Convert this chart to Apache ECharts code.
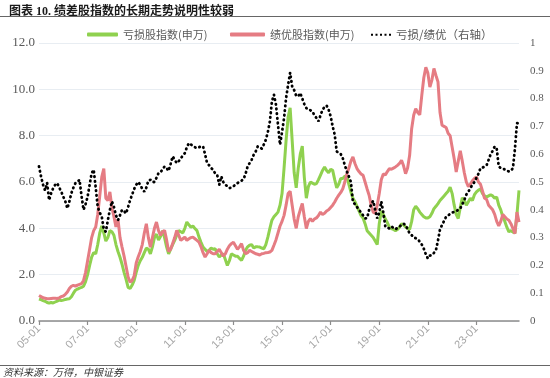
<!DOCTYPE html>
<html lang="zh">
<head>
<meta charset="UTF-8">
<title>绩差股指数</title>
<script src="https://cdn.jsdelivr.net/npm/echarts@6/dist/echarts.min.js"></script>
<style>
    * { margin: 0; padding: 0; }
    body { background: #fff; }
    #box { width: 550px; height: 378px; }
</style>
</head>
<body>
<div id="box"></div>
<script>
    // 月度数据 2005-01 ~ 2024-10
    var startYear = 2005, monthCount = 238;
    var months = [];
    for (var i = 0; i < monthCount; i++) {
        var y = startYear + Math.floor(i / 12), m = i % 12 + 1;
        months.push(String(y).slice(2) + '-' + (m < 10 ? '0' + m : m));
    }

    // 亏损股指数(申万)
    var lossIdx = [
        0.95, 0.92, 0.88, 0.85, 0.80, 0.77, 0.80, 0.78, 0.82, 0.86, 0.90, 0.88,
        0.90, 0.93, 0.95, 0.96, 1.05, 1.20, 1.33, 1.38, 1.42, 1.45, 1.50, 1.70,
        2.00, 2.40, 2.76, 2.95, 2.90, 3.30, 3.80, 4.10, 3.80, 3.45, 3.60, 3.90,
        3.85, 3.70, 3.30, 3.00, 2.75, 2.45, 2.10, 1.80, 1.45, 1.40, 1.55, 1.75,
        2.10, 2.40, 2.60, 2.75, 2.95, 3.15, 3.10, 2.90, 3.20, 3.60, 3.75, 3.50,
        3.65, 3.90, 3.60, 3.20, 2.90, 3.10, 3.30, 3.48, 3.70, 3.90, 3.85, 3.80,
        4.00, 4.27, 4.15, 4.05, 4.10, 3.99, 3.90, 3.62, 3.40, 3.19, 3.10, 3.00,
        3.05, 3.15, 3.10, 3.12, 2.90, 2.76, 2.85, 2.90, 2.65, 2.40, 2.60, 2.90,
        2.85, 2.80, 2.80, 2.70, 2.62, 2.80, 3.05, 3.20, 3.27, 3.30, 3.15, 3.20,
        3.20, 3.19, 3.15, 3.12, 3.30, 3.62, 4.00, 4.35, 4.50, 4.60, 4.70, 5.00,
        5.50, 6.60, 7.80, 8.80, 9.20, 7.80, 6.40, 5.75, 6.60, 7.20, 7.55, 6.20,
        5.30, 5.80, 6.00, 5.95, 5.90, 5.93, 6.10, 6.30, 6.50, 6.65, 6.50, 6.40,
        6.55, 6.50, 6.10, 5.75, 5.90, 6.15, 6.15, 6.25, 6.25, 5.90, 5.57, 5.30,
        5.15, 4.95, 4.75, 4.55, 4.45, 4.20, 3.90, 3.80, 3.70, 3.60, 3.45, 3.30,
        4.20, 4.75, 4.60, 4.40, 4.25, 4.05, 3.99, 3.95, 3.90, 3.95, 4.05, 4.20,
        4.15, 4.06, 4.00, 3.95, 4.30, 4.80, 4.95, 4.85, 4.70, 4.60, 4.50, 4.45,
        4.45, 4.50, 4.65, 4.85, 4.95, 5.07, 5.20, 5.30, 5.40, 5.50, 5.60, 5.78,
        5.50, 5.00, 4.60, 4.42, 4.90, 5.32, 5.20, 5.00, 5.15, 5.30, 5.20, 5.45,
        5.57, 5.65, 5.70, 5.50, 5.40, 5.35, 5.40, 5.45, 5.40, 5.30, 5.35, 5.00,
        4.80, 4.50, 4.30, 4.05, 3.85, 3.90, 3.84, 3.80, 4.60, 5.64
    ];

    // 绩优股指数(申万)
    var goodIdx = [
        1.10, 1.05, 1.00, 0.98, 0.96, 0.96, 0.97, 0.98, 0.98, 0.97, 1.00, 1.05,
        1.08, 1.15, 1.25, 1.40, 1.50, 1.54, 1.50, 1.55, 1.58, 1.61, 1.75, 2.10,
        2.60, 3.10, 3.60, 3.90, 4.06, 4.60, 5.40, 6.22, 6.58, 5.30, 5.20, 5.57,
        4.90, 4.50, 4.06, 4.40, 3.60, 3.19, 2.80, 2.35, 1.90, 1.68, 1.75, 1.95,
        2.50, 2.77, 3.00, 3.30, 3.80, 4.20, 3.60, 3.19, 3.60, 4.00, 4.27, 3.90,
        3.70, 3.85, 3.91, 3.50, 3.00, 3.10, 3.35, 3.60, 3.91, 3.70, 3.48, 3.55,
        3.62, 3.48, 3.55, 3.60, 3.62, 3.55, 3.48, 3.40, 3.20, 2.95, 2.76, 2.90,
        3.05, 2.95, 2.90, 2.90, 3.00, 3.10, 2.95, 2.80, 2.90, 3.10, 3.25, 3.34,
        3.40, 3.25, 3.10, 3.20, 3.34, 3.05, 2.90, 2.95, 3.05, 3.00, 2.95, 2.90,
        2.88, 2.85, 2.90, 2.92, 2.95, 2.96, 2.98, 3.05, 3.27, 3.50, 3.80, 4.10,
        4.30, 4.56, 5.00, 5.50, 5.60, 5.00, 4.40, 4.00, 4.50, 4.80, 5.07, 4.50,
        3.99, 4.30, 4.42, 4.30, 4.40, 4.45, 4.55, 4.70, 4.60, 4.65, 4.75, 4.80,
        4.90, 5.00, 5.14, 5.30, 5.43, 5.55, 5.71, 6.00, 6.35, 6.60, 6.90, 7.08,
        6.80, 6.58, 6.45, 6.35, 6.29, 6.00, 5.70, 5.43, 5.00, 4.70, 4.65, 5.00,
        5.50, 6.10, 6.35, 6.30, 6.45, 6.58, 6.55, 6.60, 6.65, 6.72, 6.80, 6.94,
        6.70, 6.36, 6.60, 7.15, 8.30, 8.88, 9.17, 9.00, 8.90, 9.74, 10.50, 10.95,
        10.70, 10.10, 10.40, 10.90, 10.60, 10.32, 9.00, 8.45, 8.40, 8.35, 8.10, 8.00,
        7.50, 7.00, 6.43, 6.90, 7.35, 6.90, 6.40, 6.00, 5.80, 5.90, 6.05, 6.15,
        6.22, 6.00, 5.90, 5.60, 5.30, 5.25, 5.00, 4.90, 4.80, 4.60, 4.30, 4.10,
        4.30, 4.60, 4.50, 4.40, 4.35, 4.20, 4.00, 3.77, 4.70, 4.27
    ];

    // 亏损/绩优（右轴）
    var ratio = [
        0.556, 0.520, 0.490, 0.470, 0.497, 0.435, 0.460, 0.478, 0.490, 0.496, 0.480, 0.465,
        0.447, 0.430, 0.405, 0.430, 0.460, 0.480, 0.496, 0.500, 0.508, 0.450, 0.400, 0.420,
        0.447, 0.490, 0.532, 0.544, 0.480, 0.410, 0.390, 0.375, 0.330, 0.321, 0.363, 0.400,
        0.430, 0.410, 0.380, 0.363, 0.380, 0.400, 0.395, 0.387, 0.410, 0.435, 0.455, 0.475,
        0.490, 0.500, 0.490, 0.475, 0.465, 0.480, 0.505, 0.508, 0.500, 0.500, 0.515, 0.532,
        0.535, 0.545, 0.556, 0.550, 0.540, 0.565, 0.592, 0.580, 0.568, 0.575, 0.585, 0.595,
        0.604, 0.625, 0.640, 0.635, 0.630, 0.625, 0.622, 0.625, 0.628, 0.628, 0.600, 0.568,
        0.560, 0.550, 0.544, 0.530, 0.525, 0.490, 0.520, 0.500, 0.490, 0.485, 0.478, 0.480,
        0.485, 0.490, 0.496, 0.500, 0.505, 0.510, 0.530, 0.556, 0.568, 0.580, 0.598, 0.610,
        0.628, 0.625, 0.620, 0.635, 0.652, 0.680, 0.718, 0.790, 0.814, 0.778, 0.706, 0.634,
        0.680, 0.730, 0.802, 0.850, 0.893, 0.844, 0.830, 0.810, 0.808, 0.820, 0.800, 0.780,
        0.766, 0.760, 0.758, 0.754, 0.740, 0.730, 0.718, 0.740, 0.760, 0.770, 0.775, 0.760,
        0.736, 0.700, 0.670, 0.610, 0.605, 0.600, 0.585, 0.560, 0.538, 0.520, 0.500, 0.429,
        0.420, 0.410, 0.400, 0.390, 0.380, 0.369, 0.370, 0.400, 0.420, 0.432, 0.400, 0.369,
        0.390, 0.430, 0.390, 0.340, 0.335, 0.333, 0.340, 0.335, 0.330, 0.335, 0.340, 0.345,
        0.350, 0.345, 0.330, 0.315, 0.309, 0.300, 0.298, 0.295, 0.285, 0.275, 0.260, 0.240,
        0.225, 0.235, 0.237, 0.245, 0.255, 0.290, 0.330, 0.345, 0.360, 0.375, 0.380, 0.385,
        0.390, 0.392, 0.395, 0.400, 0.405, 0.420, 0.435, 0.455, 0.465, 0.478, 0.490, 0.500,
        0.515, 0.530, 0.550, 0.552, 0.555, 0.560, 0.580, 0.600, 0.612, 0.628, 0.620, 0.556,
        0.550, 0.548, 0.545, 0.540, 0.538, 0.540, 0.550, 0.620, 0.712, 0.710
    ];

    var names = ['亏损股指数(申万)', '绩优股指数(申万)', '亏损/绩优（右轴）'];
    var labelColor = '#595959';
    var serif = '"Liberation Serif", "Noto Sans CJK SC", serif';
    var cjk = '"Noto Sans CJK SC", sans-serif';
    var dotsIcon = 'path://M0,0h2v2h-2z M4.5,0h2v2h-2z M9,0h2v2h-2z M13.5,0h2v2h-2z M18,0h2v2h-2z';

    function legendAt(name, left, w, h, icon, fs) {
        return {
            data: [{ name: name, icon: icon }],
            left: left,
            top: 24,
            itemWidth: w,
            itemHeight: h,
            itemGap: 4,
            textStyle: { fontSize: fs, color: labelColor, fontFamily: cjk }
        };
    }

    var option = {
        animation: false,
        title: {
            text: '图表 10. 绩差股指数的长期走势说明性较弱',
            left: 4,
            top: 1,
            textStyle: { fontSize: 12, fontWeight: 'bold', color: '#1a1a1a', fontFamily: serif }
        },
        legend: [
            legendAt(names[0], 82, 31, 4, 'roundRect', 11),
            legendAt(names[1], 225, 35, 4, 'roundRect', 11),
            legendAt(names[2], 366, 20, 2.5, dotsIcon, 11.5)
        ],
        grid: { left: 39, right: 31, top: 43, bottom: 57 },
        xAxis: {
            type: 'category',
            data: months,
            boundaryGap: false,
            axisLine: { lineStyle: { color: '#8c8c8c', width: 1.5 } },
            axisTick: {
                length: 4,
                interval: function (i) { return i % 24 === 0; },
                lineStyle: { color: '#8c8c8c', width: 1.2 }
            },
            axisLabel: {
                interval: function (i) { return i % 24 === 0; },
                rotate: 45,
                margin: 6,
                color: '#a6a6a6',
                fontSize: 11,
                fontFamily: '"Liberation Sans", sans-serif'
            }
        },
        yAxis: [{
            type: 'value',
            min: 0,
            max: 12,
            interval: 2,
            axisLine: { show: false },
            axisTick: { show: false },
            splitLine: { lineStyle: { color: '#e8edf2', width: 1 } },
            axisLabel: {
                margin: 4,
                color: labelColor,
                fontSize: 13,
                fontFamily: serif,
                formatter: function (v) { return v.toFixed(1); }
            }
        }, {
            type: 'value',
            min: 0,
            max: 1,
            interval: 0.1,
            axisLine: { show: false },
            axisTick: { show: false },
            splitLine: { show: false },
            axisLabel: {
                margin: 11,
                color: labelColor,
                fontSize: 11,
                fontFamily: serif,
                formatter: function (v) { return String(Math.round(v * 10) / 10); }
            }
        }],
        series: [{
            name: names[0],
            type: 'line',
            data: lossIdx,
            symbol: 'none',
            color: '#8fd14f',
            lineStyle: { width: 3, color: '#8fd14f' }
        }, {
            name: names[1],
            type: 'line',
            data: goodIdx,
            symbol: 'none',
            color: '#e57c83',
            lineStyle: { width: 3, color: '#e57c83' }
        }, {
            name: names[2],
            type: 'line',
            yAxisIndex: 1,
            data: ratio,
            symbol: 'none',
            color: '#000',
            lineStyle: { width: 2.8, color: '#000', type: [0.5, 4.2], cap: 'round' }
        }],
        graphic: [{
            type: 'line',
            shape: { x1: 0, y1: 16.5, x2: 550, y2: 16.5 },
            style: { stroke: '#666', lineWidth: 1 }
        }, {
            type: 'line',
            shape: { x1: 0, y1: 365.5, x2: 550, y2: 365.5 },
            style: { stroke: '#666', lineWidth: 1 }
        }, {
            type: 'text',
            left: 3,
            top: 367,
            style: {
                text: '资料来源：万得，中银证券',
                fontSize: 10,
                fontStyle: 'italic',
                fill: '#333',
                fontFamily: cjk
            }
        }]
    };

    echarts.init(document.getElementById('box')).setOption(option);
</script>
</body>
</html>
